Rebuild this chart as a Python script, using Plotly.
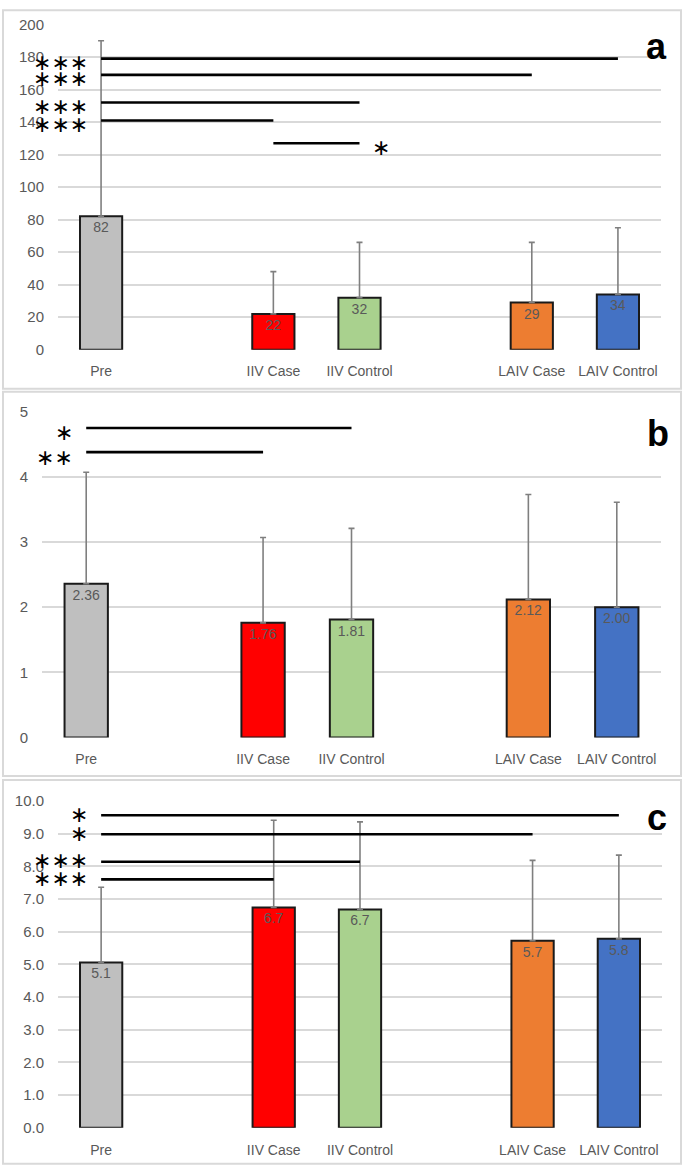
import plotly.graph_objects as go

# categories (blank slots keep the gaps between groups)
cats = ["Pre", " ", "IIV Case", "IIV Control", "  ", "LAIV Case", "LAIV Control"]
groups = ["Pre", "IIV Case", "IIV Control", "LAIV Case", "LAIV Control"]
colors = ["#bfbfbf", "#ff0000", "#a9d18e", "#ed7d31", "#4472c4"]

# panel a
mean_a = [82, 22, 32, 29, 34]
sd_a = [108, 26, 34, 37, 41]
sig_a_y = [179, 169, 152, 141, 127]
sig_a_from = ["Pre", "Pre", "Pre", "Pre", "IIV Case"]
sig_a_to = ["LAIV Control", "LAIV Case", "IIV Control", "IIV Case", "IIV Control"]
sig_a_txt = ["∗∗∗", "∗∗∗", "∗∗∗", "∗∗∗", "∗"]

# panel b
mean_b = [2.36, 1.76, 1.81, 2.12, 2.00]
sd_b = [1.71, 1.31, 1.40, 1.61, 1.61]
sig_b_y = [4.75, 4.38]
sig_b_from = ["Pre", "Pre"]
sig_b_to = ["IIV Control", "IIV Case"]
sig_b_txt = ["∗", "∗∗"]

# panel c
mean_c = [5.06, 6.74, 6.68, 5.72, 5.78]
sd_c = [2.30, 2.67, 2.68, 2.46, 2.56]
sig_c_y = [9.56, 8.98, 8.14, 7.60]
sig_c_from = ["Pre", "Pre", "Pre", "Pre"]
sig_c_to = ["LAIV Control", "LAIV Case", "IIV Control", "IIV Case"]
sig_c_txt = ["∗", "∗", "∗∗∗", "∗∗∗"]

W, H = 685, 1173
GRID = "#d9d9d9"
TXT = "#595959"
FONT = "Liberation Sans, Arial, sans-serif"


def py(y):
    # target pixel -> paper coordinate (the page shows the figure a bit offset/squeezed)
    L = (y - 8.5) / 0.985
    return min(max(1 - L / H, 0.001), 0.999)


def px(x):
    return x / W


fig = go.Figure()

panels = [
    dict(n="", mean=mean_a, sd=sd_a, fmt="{:.0f}", sy=sig_a_y, sf=sig_a_from,
         st=sig_a_to, stxt=sig_a_txt, yshift=-4, letter="a",
         xdom=[px(58), px(661)], ydom=[py(349), py(24)], rng=[0, 200], dtick=20,
         tfmt="d", box=[8, 388], lpos=(656, 46)),
    dict(n="2", mean=mean_b, sd=sd_b, fmt="{:.2f}", sy=sig_b_y, sf=sig_b_from,
         st=sig_b_to, stxt=sig_b_txt, yshift=-5, letter="b",
         xdom=[px(42), px(661)], ydom=[py(736.7), py(411)], rng=[0, 5], dtick=1,
         tfmt="d", box=[391, 775], lpos=(658, 433)),
    dict(n="3", mean=mean_c, sd=sd_c, fmt="{:.1f}", sy=sig_c_y, sf=sig_c_from,
         st=sig_c_to, stxt=sig_c_txt, yshift=1, letter="c",
         xdom=[px(58), px(662)], ydom=[py(1126.7), py(800)], rng=[0, 10], dtick=1,
         tfmt=".1f", box=[779, 1167], lpos=(657, 817)),
]

for p in panels:
    xa, ya = "x" + p["n"], "y" + p["n"]
    fig.add_trace(go.Bar(
        x=groups, y=p["mean"], xaxis=xa, yaxis=ya, width=0.49,
        marker=dict(color=colors, line=dict(color="#1a1a1a", width=2)),
        error_y=dict(type="data", array=p["sd"], arrayminus=[0] * len(p["sd"]),
                     symmetric=False, color="#7f7f7f", thickness=1.6, width=3),
        text=[p["fmt"].format(v) for v in p["mean"]],
        textposition="inside", insidetextanchor="end", constraintext="none",
        textangle=0, textfont=dict(color=TXT, size=14, family=FONT),
        hoverinfo="skip", showlegend=False,
    ))
    for y, a, b, s in zip(p["sy"], p["sf"], p["st"], p["stxt"]):
        fig.add_trace(go.Scatter(
            x=[a, b], y=[y, y], xaxis=xa, yaxis=ya, mode="lines",
            line=dict(color="black", width=2.6), hoverinfo="skip", showlegend=False,
        ))
        if a == "Pre":
            fig.add_annotation(x=a, y=y, xref=xa, yref=ya, text=s, showarrow=False,
                               xanchor="right", xshift=-11, yshift=p["yshift"],
                               font=dict(family="DejaVu Sans", size=22, color="black"))
        else:
            fig.add_annotation(x=b, y=y, xref=xa, yref=ya, text=s, showarrow=False,
                               xanchor="left", xshift=10, yshift=p["yshift"],
                               font=dict(family="DejaVu Sans", size=22, color="black"))

    ax_x = dict(domain=p["xdom"], anchor=ya, type="category", categoryorder="array",
                categoryarray=cats, range=[-0.5, 6.5], showgrid=False, showline=False,
                zeroline=False, ticks="outside", ticklen=9, tickcolor="rgba(0,0,0,0)",
                tickfont=dict(color=TXT, size=14, family=FONT), fixedrange=True)
    ax_y = dict(domain=p["ydom"], anchor=xa, range=p["rng"], dtick=p["dtick"],
                tickformat=p["tfmt"], showgrid=True, gridcolor=GRID, gridwidth=1.6,
                zeroline=False, showline=False, ticks="outside", ticklen=10,
                tickcolor="rgba(0,0,0,0)",
                tickfont=dict(color=TXT, size=15, family=FONT), fixedrange=True)
    fig.update_layout(**{"xaxis" + p["n"]: ax_x, "yaxis" + p["n"]: ax_y})

    fig.add_shape(type="rect", xref="paper", yref="paper", x0=px(3), x1=px(681),
                  y0=py(p["box"][1]), y1=py(p["box"][0]),
                  line=dict(color=GRID, width=2), layer="below")
    fig.add_annotation(x=px(p["lpos"][0]), y=py(p["lpos"][1]), xref="paper", yref="paper",
                       xanchor="center", yanchor="middle",
                       text="<b>" + p["letter"] + "</b>", showarrow=False,
                       font=dict(family=FONT, size=36, color="black"))

fig.update_layout(
    width=W, height=H, margin=dict(l=0, r=0, t=0, b=0),
    paper_bgcolor="white", plot_bgcolor="white", bargap=0.5,
    font=dict(family=FONT, color=TXT),
)

fig.write_html("out.html", config={"displayModeBar": False},
               post_script="document.body.style.margin='0';")
